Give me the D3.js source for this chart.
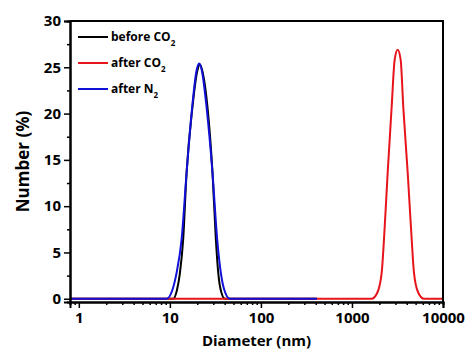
<!DOCTYPE html>
<html>
<head>
<meta charset="utf-8">
<script src="https://cdn.jsdelivr.net/npm/d3@7/dist/d3.min.js"></script>
<style>
  body { margin: 0; background: #fff; }
  text { font-family: 'Open Sans', 'Liberation Sans', sans-serif; font-weight: bold; fill: #000; }
</style>
</head>
<body>
<svg id="chart" width="469" height="351"></svg>
<script>
// series: diameter (nm) and number (%)
const beforeD = [0.8, 10.9, 12.0, 12.9, 14.0, 15.26, 17.7, 20.0, 21.4, 23.0, 25.9, 29.4, 32.0, 34.0, 36.1, 40.2, 412];
const beforeN = [0, 0, 1.0, 2.8, 6.4, 13.6, 20.7, 24.6, 25.3, 24.4, 20.7, 13.6, 6.4, 2.8, 1.0, 0, 0];

const afterCO2D = [0.8, 1645, 1897, 2120, 2248, 2467, 2729, 2944, 3176, 3428, 3662, 4097, 4530, 4800, 5354, 6180, 10000];
const afterCO2N = [0, 0, 0.65, 2.8, 6.4, 13.6, 20.7, 25.8, 26.9, 25.8, 20.7, 13.6, 6.4, 2.8, 0.65, 0, 0];

const afterN2D = [0.8, 9.2, 10.7, 11.85, 13.45, 15.26, 17.58, 19.6, 20.99, 22.6, 25.3, 29.4, 33.1, 36.3, 39.5, 45.6, 412];
const afterN2N = [0, 0, 1.0, 2.8, 6.4, 13.6, 20.7, 24.6, 25.4, 24.5, 20.7, 13.6, 6.4, 2.8, 1.0, 0, 0];

const seriesNames = ['before CO', 'after CO', 'after N'];
const seriesSubs = ['2', '2', '2'];
const seriesColors = ['#000000', '#e8141b', '#1010d8'];

const xTicks = [1, 10, 100, 1000, 10000];
const yTicks = [0, 5, 10, 15, 20, 25, 30];

// plot box
const mLeft = 70, mRight = 443, mTop = 21, mBottom = 302;

const svg = d3.select('#chart');

const x = d3.scaleLog().domain([0.8, 10000]).range([mLeft, mRight]);
const y = d3.scaleLinear().domain([-0.35, 30]).range([mBottom, mTop]);

// minor ticks
const xMinor = [];
[0.1, 1, 10, 100, 1000].forEach((dec) => {
  for (let k = 2; k <= 9; k++) {
    const v = dec * k;
    if (v >= 0.8 && v <= 10000 && !xTicks.includes(v)) xMinor.push(v);
  }
});
const yMinor = [2.5, 7.5, 12.5, 17.5, 22.5, 27.5];

// lines: black, red, blue (blue on top)
const line = d3
  .line()
  .x((d) => x(d[0]))
  .y((d) => y(d[1]))
  .curve(d3.curveMonotoneX);

const series = [
  d3.zip(beforeD, beforeN),
  d3.zip(afterCO2D, afterCO2N),
  d3.zip(afterN2D, afterN2N),
];

svg
  .append('g')
  .selectAll('path')
  .data(series)
  .join('path')
  .attr('d', line)
  .attr('fill', 'none')
  .attr('stroke', (d, i) => seriesColors[i])
  .attr('stroke-width', 2);

// axes
const gx = svg.append('g').attr('transform', `translate(0,${mBottom})`);
gx.call(d3.axisBottom(x).tickValues(xTicks).tickFormat(d3.format('d')).tickSize(6).tickPadding(4));
gx.append('g').call(d3.axisBottom(x).tickValues(xMinor).tickFormat('').tickSize(3));

const gy = svg.append('g').attr('transform', `translate(${mLeft},0)`);
gy.call(d3.axisLeft(y).tickValues(yTicks).tickSize(6).tickPadding(3));
gy.append('g').call(d3.axisLeft(y).tickValues(yMinor).tickFormat('').tickSize(3));

svg.selectAll('.domain').attr('stroke', '#000').attr('stroke-width', 2);
svg.selectAll('.tick line').attr('stroke', '#000').attr('stroke-width', 1.5);
svg.selectAll('.tick text').attr('font-size', 15).attr('font-family', "'Open Sans', sans-serif").attr('font-weight', 'bold');

// frame top / right
svg
  .append('path')
  .attr('d', `M${mLeft},${mTop}H${mRight}V${mBottom}`)
  .attr('fill', 'none')
  .attr('stroke', '#000')
  .attr('stroke-width', 2);

// axis titles
svg
  .append('text')
  .attr('transform', `translate(22,${(mTop + mBottom) / 2}) rotate(-90)`)
  .attr('text-anchor', 'middle')
  .attr('dominant-baseline', 'central')
  .attr('font-size', 17)
  .text('Number (%)');

svg
  .append('text')
  .attr('x', (mLeft + mRight) / 2)
  .attr('y', 346)
  .attr('text-anchor', 'middle')
  .attr('font-size', 15)
  .text('Diameter (nm)');

// legend
const legend = svg
  .append('g')
  .selectAll('g')
  .data(seriesNames)
  .join('g')
  .attr('transform', (d, i) => `translate(78,${37 + i * 26})`);

legend
  .append('line')
  .attr('x1', 0)
  .attr('x2', 30)
  .attr('stroke', (d, i) => seriesColors[i])
  .attr('stroke-width', 2);

const lt = legend
  .append('text')
  .attr('x', 33)
  .attr('y', 4)
  .attr('font-size', 12);
lt.append('tspan').text((d) => d);
lt.append('tspan')
  .attr('dy', 5)
  .attr('font-size', 8)
  .text((d, i) => seriesSubs[i]);
</script>
</body>
</html>
